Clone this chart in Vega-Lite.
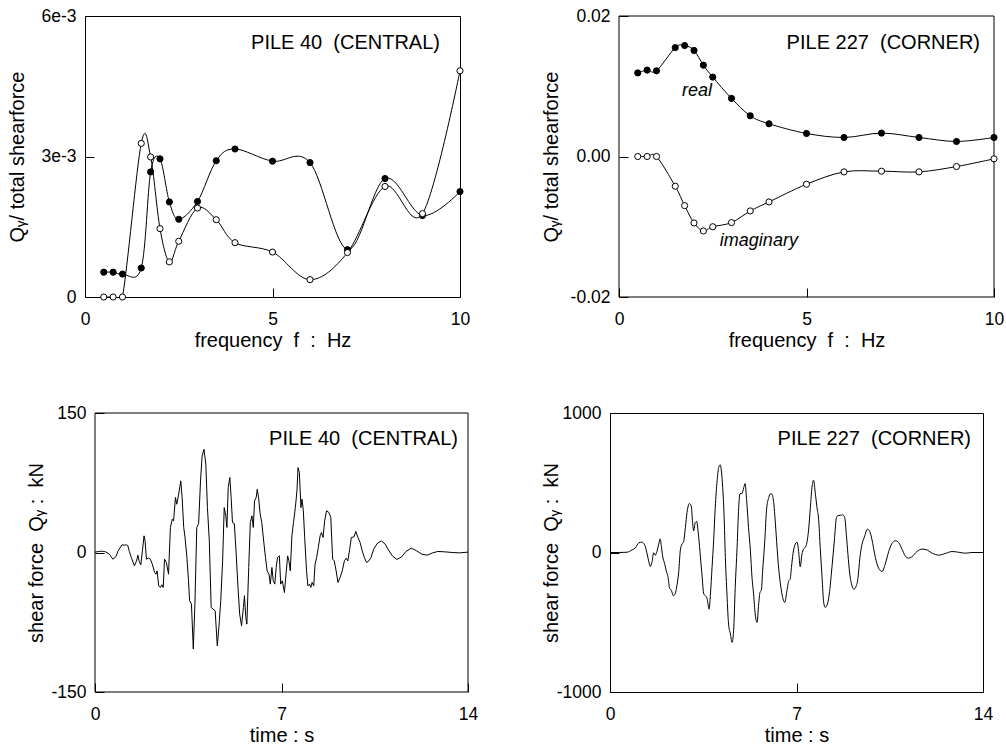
{
  "$schema": "https://vega.github.io/schema/vega-lite/v6.json",
  "background": "white",
  "padding": {"left": 6, "top": 6, "right": 5, "bottom": 5},
  "config": {
    "font": "Liberation Sans",
    "view": {"stroke": "black", "strokeWidth": 1},
    "axis": {"domain": false, "grid": false, "ticks": true, "tickSize": -9, "tickColor": "black", "tickWidth": 1,
      "labelColor": "black", "labelFontSize": 17.5, "labelFont": "Liberation Sans", "labelFlush": false, "labelOverlap": false,
      "titleFontSize": 20, "titleFontWeight": "normal", "titleColor": "black", "titleFont": "Liberation Sans"},
    "axisX": {"labelPadding": 36, "labelBaseline": "alphabetic", "titleY": 49, "titleBaseline": "alphabetic"},
    "axisY": {"labelPadding": 18, "titleBaseline": "alphabetic"}
  },
  "bounds": "flush",
  "columns": 2,
  "spacing": {"column": 142, "row": 116},
  "datasets": {
    "one": [{}],
    "tl": [
      {"f": 0.5, "v": 0.00053, "s": "filled"}, {"f": 0.75, "v": 0.00053, "s": "filled"}, {"f": 1.0, "v": 0.00049, "s": "filled"},
      {"f": 1.5, "v": 0.00062, "s": "filled"}, {"f": 1.75, "v": 0.00267, "s": "filled"}, {"f": 2.0, "v": 0.00295, "s": "filled"},
      {"f": 2.25, "v": 0.00203, "s": "filled"}, {"f": 2.5, "v": 0.00166, "s": "filled"}, {"f": 3.0, "v": 0.00204, "s": "filled"},
      {"f": 3.5, "v": 0.00291, "s": "filled"}, {"f": 4.0, "v": 0.00316, "s": "filled"}, {"f": 5.0, "v": 0.0029, "s": "filled"},
      {"f": 6.0, "v": 0.00287, "s": "filled"}, {"f": 7.0, "v": 0.00101, "s": "filled"}, {"f": 8.0, "v": 0.00253, "s": "filled"},
      {"f": 9.0, "v": 0.00174, "s": "filled"}, {"f": 10.0, "v": 0.00225, "s": "filled"},
      {"f": 0.5, "v": 0.0, "s": "open"}, {"f": 0.75, "v": 0.0, "s": "open"}, {"f": 1.0, "v": 0.0, "s": "open"},
      {"f": 1.5, "v": 0.00328, "s": "open"}, {"f": 1.75, "v": 0.00299, "s": "open"}, {"f": 2.0, "v": 0.00146, "s": "open"},
      {"f": 2.25, "v": 0.00075, "s": "open"}, {"f": 2.5, "v": 0.00119, "s": "open"}, {"f": 3.0, "v": 0.0019, "s": "open"},
      {"f": 3.5, "v": 0.00165, "s": "open"}, {"f": 4.0, "v": 0.00116, "s": "open"}, {"f": 5.0, "v": 0.00096, "s": "open"},
      {"f": 6.0, "v": 0.00037, "s": "open"}, {"f": 7.0, "v": 0.00095, "s": "open"}, {"f": 8.0, "v": 0.00236, "s": "open"},
      {"f": 9.0, "v": 0.00178, "s": "open"}, {"f": 10.0, "v": 0.00483, "s": "open"}
    ],
    "tr": [
      {"f": 0.5, "v": 0.0119, "s": "filled"}, {"f": 0.75, "v": 0.0123, "s": "filled"}, {"f": 1.0, "v": 0.0122, "s": "filled"},
      {"f": 1.5, "v": 0.0155, "s": "filled"}, {"f": 1.75, "v": 0.0158, "s": "filled"}, {"f": 2.0, "v": 0.0151, "s": "filled"},
      {"f": 2.25, "v": 0.013, "s": "filled"}, {"f": 2.5, "v": 0.0113, "s": "filled"}, {"f": 3.0, "v": 0.00827, "s": "filled"},
      {"f": 3.5, "v": 0.0058, "s": "filled"}, {"f": 4.0, "v": 0.00466, "s": "filled"}, {"f": 5.0, "v": 0.00328, "s": "filled"},
      {"f": 6.0, "v": 0.00271, "s": "filled"}, {"f": 7.0, "v": 0.00333, "s": "filled"}, {"f": 8.0, "v": 0.00271, "s": "filled"},
      {"f": 9.0, "v": 0.00214, "s": "filled"}, {"f": 10.0, "v": 0.00271, "s": "filled"},
      {"f": 0.5, "v": 0.0, "s": "open"}, {"f": 0.75, "v": 0.0, "s": "open"}, {"f": 1.0, "v": 0.0, "s": "open"},
      {"f": 1.5, "v": -0.00423, "s": "open"}, {"f": 1.75, "v": -0.00699, "s": "open"}, {"f": 2.0, "v": -0.00946, "s": "open"},
      {"f": 2.25, "v": -0.0106, "s": "open"}, {"f": 2.5, "v": -0.01, "s": "open"}, {"f": 3.0, "v": -0.00941, "s": "open"},
      {"f": 3.5, "v": -0.00775, "s": "open"}, {"f": 4.0, "v": -0.00647, "s": "open"}, {"f": 5.0, "v": -0.00395, "s": "open"},
      {"f": 6.0, "v": -0.00219, "s": "open"}, {"f": 7.0, "v": -0.00209, "s": "open"}, {"f": 8.0, "v": -0.00219, "s": "open"},
      {"f": 9.0, "v": -0.00143, "s": "open"}, {"f": 10.0, "v": -0.00033, "s": "open"}
    ],
    "bl": [
      {"t": 0, "q": 0.4}, {"t": 0.13, "q": 1.1}, {"t": 0.27, "q": 1.4}, {"t": 0.4, "q": 0.7}, {"t": 0.54, "q": -1.8},
      {"t": 0.67, "q": -7.2}, {"t": 0.78, "q": -4.7}, {"t": 0.87, "q": 1.8}, {"t": 1.01, "q": 8.2}, {"t": 1.1, "q": 7.9},
      {"t": 1.18, "q": 8.2}, {"t": 1.23, "q": 7.5}, {"t": 1.29, "q": 1.1}, {"t": 1.37, "q": -6.1}, {"t": 1.48, "q": -14.3},
      {"t": 1.56, "q": -9.0}, {"t": 1.61, "q": -2.9}, {"t": 1.66, "q": -9.7}, {"t": 1.72, "q": -13.2}, {"t": 1.78, "q": 1.8},
      {"t": 1.84, "q": 17.9}, {"t": 1.88, "q": 12.5}, {"t": 1.93, "q": -7.2}, {"t": 2.01, "q": -6.1}, {"t": 2.08, "q": -7.2},
      {"t": 2.15, "q": -12.5}, {"t": 2.24, "q": -21.5}, {"t": 2.29, "q": -23.3}, {"t": 2.33, "q": -19.7}, {"t": 2.39, "q": -35.8},
      {"t": 2.45, "q": -37.6}, {"t": 2.51, "q": -34.7}, {"t": 2.56, "q": -37.6}, {"t": 2.61, "q": -7.2}, {"t": 2.68, "q": -10.7},
      {"t": 2.76, "q": -23.3}, {"t": 2.83, "q": 26.9}, {"t": 2.9, "q": 35.8}, {"t": 2.95, "q": 34.0}, {"t": 3.02, "q": 59.1},
      {"t": 3.07, "q": 51.9}, {"t": 3.14, "q": 62.7}, {"t": 3.22, "q": 77.0}, {"t": 3.27, "q": 59.1}, {"t": 3.33, "q": 26.9},
      {"t": 3.38, "q": 16.1}, {"t": 3.45, "q": -5.4}, {"t": 3.51, "q": -30.4}, {"t": 3.55, "q": -51.9}, {"t": 3.62, "q": -55.5},
      {"t": 3.69, "q": -103.8}, {"t": 3.75, "q": -55.5}, {"t": 3.82, "q": 26.9}, {"t": 3.89, "q": 31.1}, {"t": 3.96, "q": 77.0},
      {"t": 4.02, "q": 103.8}, {"t": 4.09, "q": 111.0}, {"t": 4.16, "q": 94.9}, {"t": 4.22, "q": 48.3}, {"t": 4.29, "q": 12.5},
      {"t": 4.36, "q": -59.1}, {"t": 4.43, "q": -60.9}, {"t": 4.51, "q": -62.7}, {"t": 4.59, "q": -100.3}, {"t": 4.65, "q": -80.6},
      {"t": 4.72, "q": -51.9}, {"t": 4.79, "q": -9.0}, {"t": 4.85, "q": 48.3}, {"t": 4.91, "q": 39.4}, {"t": 4.95, "q": 26.9},
      {"t": 5.0, "q": 69.8}, {"t": 5.06, "q": 80.6}, {"t": 5.11, "q": 59.1}, {"t": 5.16, "q": 32.2}, {"t": 5.23, "q": 31.1},
      {"t": 5.3, "q": -1.8}, {"t": 5.36, "q": -34.0}, {"t": 5.43, "q": -66.2}, {"t": 5.5, "q": -78.8}, {"t": 5.57, "q": -59.1},
      {"t": 5.61, "q": -46.5}, {"t": 5.66, "q": -69.8}, {"t": 5.7, "q": -77.0}, {"t": 5.77, "q": -16.1}, {"t": 5.83, "q": 32.2},
      {"t": 5.89, "q": 39.4}, {"t": 5.94, "q": 26.9}, {"t": 5.99, "q": 55.5}, {"t": 6.05, "q": 59.1}, {"t": 6.09, "q": 68.0},
      {"t": 6.14, "q": 59.1}, {"t": 6.2, "q": 41.2}, {"t": 6.26, "q": 32.2}, {"t": 6.33, "q": 12.5}, {"t": 6.4, "q": -5.4},
      {"t": 6.46, "q": -19.7}, {"t": 6.53, "q": -23.3}, {"t": 6.58, "q": -34.0}, {"t": 6.64, "q": -16.1}, {"t": 6.69, "q": -30.4},
      {"t": 6.75, "q": -34.0}, {"t": 6.8, "q": -16.1}, {"t": 6.85, "q": -5.4}, {"t": 6.92, "q": -3.6}, {"t": 6.97, "q": -34.0},
      {"t": 7.03, "q": -30.4}, {"t": 7.11, "q": -43.0}, {"t": 7.17, "q": -23.3}, {"t": 7.23, "q": -3.6}, {"t": 7.28, "q": -9.0},
      {"t": 7.33, "q": -19.7}, {"t": 7.39, "q": 17.9}, {"t": 7.45, "q": 32.2}, {"t": 7.52, "q": 48.3}, {"t": 7.58, "q": 66.2},
      {"t": 7.62, "q": 91.3}, {"t": 7.67, "q": 85.9}, {"t": 7.73, "q": 48.3}, {"t": 7.77, "q": 57.3}, {"t": 7.82, "q": 44.8},
      {"t": 7.87, "q": 16.1}, {"t": 7.94, "q": -19.7}, {"t": 7.99, "q": -35.8}, {"t": 8.05, "q": -34.0}, {"t": 8.1, "q": -37.6},
      {"t": 8.15, "q": -32.2}, {"t": 8.21, "q": -35.8}, {"t": 8.26, "q": -12.5}, {"t": 8.32, "q": -5.4}, {"t": 8.38, "q": 5.4},
      {"t": 8.45, "q": 17.9}, {"t": 8.5, "q": 21.5}, {"t": 8.56, "q": 16.1}, {"t": 8.62, "q": 34.0}, {"t": 8.69, "q": 44.8},
      {"t": 8.78, "q": 43.0}, {"t": 8.85, "q": 37.6}, {"t": 8.92, "q": -7.2}, {"t": 8.98, "q": -9.0}, {"t": 9.05, "q": -19.7},
      {"t": 9.12, "q": -32.2}, {"t": 9.2, "q": -26.9}, {"t": 9.28, "q": -19.7}, {"t": 9.36, "q": -9.0}, {"t": 9.43, "q": -6.1},
      {"t": 9.49, "q": -9.0}, {"t": 9.56, "q": 3.6}, {"t": 9.62, "q": 16.1}, {"t": 9.72, "q": 16.8}, {"t": 9.79, "q": 22.6},
      {"t": 9.87, "q": 16.1}, {"t": 9.95, "q": 10.7}, {"t": 10.03, "q": 1.8}, {"t": 10.11, "q": -5.4}, {"t": 10.19, "q": -10.7},
      {"t": 10.28, "q": -9.0}, {"t": 10.36, "q": -5.4}, {"t": 10.46, "q": 3.6}, {"t": 10.59, "q": 9.7}, {"t": 10.75, "q": 12.5},
      {"t": 10.89, "q": 9.0}, {"t": 11.02, "q": 2.5}, {"t": 11.16, "q": -3.6}, {"t": 11.33, "q": -7.5}, {"t": 11.51, "q": -4.7},
      {"t": 11.67, "q": 1.1}, {"t": 11.87, "q": 4.7}, {"t": 12.07, "q": 1.8}, {"t": 12.27, "q": -1.8}, {"t": 12.47, "q": -2.9},
      {"t": 12.67, "q": -0.4}, {"t": 12.87, "q": 1.1}, {"t": 13.14, "q": 0.7}, {"t": 13.41, "q": 0.0}, {"t": 13.68, "q": -0.4},
      {"t": 14.0, "q": 0.4}
    ],
    "br": [
      {"t": 0, "q": 0}, {"t": 0.33, "q": 0}, {"t": 0.64, "q": 2}, {"t": 0.83, "q": 19}, {"t": 0.95, "q": 33},
      {"t": 1.08, "q": 69}, {"t": 1.2, "q": 74}, {"t": 1.3, "q": 55}, {"t": 1.39, "q": -7}, {"t": 1.45, "q": -60},
      {"t": 1.51, "q": -100}, {"t": 1.58, "q": -64}, {"t": 1.64, "q": -2}, {"t": 1.7, "q": -19}, {"t": 1.76, "q": 7},
      {"t": 1.83, "q": 60}, {"t": 1.88, "q": 98}, {"t": 1.93, "q": 41}, {"t": 1.98, "q": -31}, {"t": 2.05, "q": -79},
      {"t": 2.11, "q": -131}, {"t": 2.18, "q": -179}, {"t": 2.24, "q": -258}, {"t": 2.3, "q": -270}, {"t": 2.38, "q": -310},
      {"t": 2.45, "q": -294}, {"t": 2.51, "q": -239}, {"t": 2.58, "q": -136}, {"t": 2.64, "q": 17}, {"t": 2.7, "q": 60},
      {"t": 2.76, "q": 76}, {"t": 2.83, "q": 179}, {"t": 2.89, "q": 286}, {"t": 2.98, "q": 351}, {"t": 3.05, "q": 334},
      {"t": 3.1, "q": 215}, {"t": 3.14, "q": 155}, {"t": 3.2, "q": 215}, {"t": 3.25, "q": 222}, {"t": 3.33, "q": 107},
      {"t": 3.39, "q": -24}, {"t": 3.45, "q": -155}, {"t": 3.52, "q": -298}, {"t": 3.58, "q": -310}, {"t": 3.64, "q": -327},
      {"t": 3.72, "q": -406}, {"t": 3.77, "q": -298}, {"t": 3.83, "q": -107}, {"t": 3.89, "q": 84}, {"t": 3.95, "q": 322},
      {"t": 4.02, "q": 513}, {"t": 4.08, "q": 609}, {"t": 4.14, "q": 628}, {"t": 4.18, "q": 585}, {"t": 4.23, "q": 465},
      {"t": 4.28, "q": 275}, {"t": 4.33, "q": -36}, {"t": 4.39, "q": -298}, {"t": 4.45, "q": -513}, {"t": 4.52, "q": -585},
      {"t": 4.58, "q": -645}, {"t": 4.64, "q": -561}, {"t": 4.7, "q": -251}, {"t": 4.77, "q": 36}, {"t": 4.83, "q": 322},
      {"t": 4.88, "q": 422}, {"t": 4.95, "q": 422}, {"t": 5.02, "q": 465}, {"t": 5.07, "q": 494}, {"t": 5.13, "q": 370},
      {"t": 5.2, "q": 179}, {"t": 5.27, "q": 12}, {"t": 5.33, "q": -179}, {"t": 5.39, "q": -298}, {"t": 5.45, "q": -442},
      {"t": 5.52, "q": -501}, {"t": 5.58, "q": -370}, {"t": 5.63, "q": -286}, {"t": 5.68, "q": -270}, {"t": 5.73, "q": -131},
      {"t": 5.81, "q": 84}, {"t": 5.88, "q": 317}, {"t": 5.96, "q": 394}, {"t": 6.02, "q": 422}, {"t": 6.08, "q": 418},
      {"t": 6.14, "q": 365}, {"t": 6.21, "q": 203}, {"t": 6.27, "q": 36}, {"t": 6.33, "q": -112}, {"t": 6.39, "q": -215},
      {"t": 6.46, "q": -303}, {"t": 6.56, "q": -358}, {"t": 6.64, "q": -275}, {"t": 6.71, "q": -203}, {"t": 6.76, "q": -193},
      {"t": 6.81, "q": -107}, {"t": 6.87, "q": -7}, {"t": 6.93, "q": 48}, {"t": 7.02, "q": 74}, {"t": 7.08, "q": 7},
      {"t": 7.14, "q": -103}, {"t": 7.2, "q": -17}, {"t": 7.27, "q": 26}, {"t": 7.33, "q": 36}, {"t": 7.39, "q": 72},
      {"t": 7.45, "q": 155}, {"t": 7.52, "q": 322}, {"t": 7.58, "q": 465}, {"t": 7.64, "q": 518}, {"t": 7.71, "q": 418},
      {"t": 7.77, "q": 322}, {"t": 7.83, "q": 239}, {"t": 7.89, "q": 36}, {"t": 7.96, "q": -179}, {"t": 8.02, "q": -358},
      {"t": 8.08, "q": -394}, {"t": 8.16, "q": -370}, {"t": 8.23, "q": -298}, {"t": 8.33, "q": -107}, {"t": 8.42, "q": 84},
      {"t": 8.5, "q": 251}, {"t": 8.56, "q": 265}, {"t": 8.65, "q": 267}, {"t": 8.73, "q": 270}, {"t": 8.81, "q": 251},
      {"t": 8.87, "q": 131}, {"t": 8.93, "q": -12}, {"t": 9.0, "q": -155}, {"t": 9.06, "q": -222}, {"t": 9.15, "q": -263},
      {"t": 9.23, "q": -246}, {"t": 9.31, "q": -179}, {"t": 9.38, "q": -36}, {"t": 9.46, "q": 60}, {"t": 9.55, "q": 112},
      {"t": 9.66, "q": 167}, {"t": 9.75, "q": 150}, {"t": 9.83, "q": 95}, {"t": 9.96, "q": -36}, {"t": 10.08, "q": -112},
      {"t": 10.21, "q": -136}, {"t": 10.33, "q": -84}, {"t": 10.46, "q": 7}, {"t": 10.58, "q": 64}, {"t": 10.71, "q": 84},
      {"t": 10.83, "q": 72}, {"t": 10.96, "q": 24}, {"t": 11.08, "q": -24}, {"t": 11.2, "q": -41}, {"t": 11.33, "q": -31},
      {"t": 11.52, "q": 7}, {"t": 11.71, "q": 24}, {"t": 11.86, "q": 21}, {"t": 12.09, "q": -5}, {"t": 12.34, "q": -19},
      {"t": 12.59, "q": -7}, {"t": 12.84, "q": 7}, {"t": 13.08, "q": 2}, {"t": 13.34, "q": -5}, {"t": 13.59, "q": 0},
      {"t": 14.0, "q": 0}
    ]
  },
  "concat": [
    {
      "width": 375, "height": 281,
      "layer": [
        {"data": {"name": "tl"},
         "mark": {"type": "line", "interpolate": "cardinal", "tension": 0, "clip": true, "color": "black", "strokeWidth": 1},
         "encoding": {
           "x": {"field": "f", "type": "quantitative", "scale": {"domain": [0, 10], "nice": false, "zero": false},
                 "axis": {"values": [0, 5, 10], "format": "d", "title": "frequency\u00a0 f\u00a0 :\u00a0 Hz"}},
           "y": {"field": "v", "type": "quantitative", "scale": {"domain": [0, 0.006], "nice": false, "zero": false},
                 "axis": {"values": [0, 0.003, 0.006], "labelExpr": "datum.value < 0.001 ? '0' : datum.value < 0.0045 ? '3e-3' : '6e-3'", "title": "Q\u1d67/ total shearforce", "titleX": -62}},
           "detail": {"field": "s"}}},
        {"data": {"name": "tl"},
         "mark": {"type": "circle", "size": 38, "stroke": "black", "strokeWidth": 1, "opacity": 1},
         "encoding": {
           "x": {"field": "f", "type": "quantitative"},
           "y": {"field": "v", "type": "quantitative"},
           "fill": {"field": "s", "type": "nominal", "scale": {"domain": ["filled", "open"], "range": ["black", "white"]}, "legend": null}}},
        {"data": {"name": "one"},
         "mark": {"type": "text", "text": "PILE 40\u00a0 (CENTRAL)", "align": "right", "baseline": "alphabetic", "dx": -20, "dy": 33, "fontSize": 20, "color": "black"},
         "encoding": {"x": {"datum": 10}, "y": {"datum": 0.006}}}
      ]
    },
    {
      "width": 384, "height": 281,
      "view": {"stroke": null},
      "layer": [
        {"data": {"name": "one"},
         "mark": {"type": "rect", "fillOpacity": 0, "stroke": "black", "strokeWidth": 1},
         "encoding": {"x": {"datum": 0}, "x2": {"datum": 10}, "y": {"datum": -0.02}, "y2": {"datum": 0.02}}},
        {"data": {"name": "tr"},
         "mark": {"type": "line", "interpolate": "cardinal", "tension": 0, "color": "black", "strokeWidth": 1},
         "encoding": {
           "x": {"field": "f", "type": "quantitative", "scale": {"domain": [0, 10], "nice": false, "zero": false, "range": [9, 384]},
                 "axis": {"values": [0, 5, 10], "format": "d", "title": "frequency\u00a0 f\u00a0 :\u00a0 Hz"}},
           "y": {"field": "v", "type": "quantitative", "scale": {"domain": [-0.02, 0.02], "nice": false, "zero": false},
                 "axis": {"values": [-0.02, 0, 0.02], "offset": -9, "labelExpr": "datum.value > 0.001 ? '0.02' : datum.value < -0.001 ? '-0.02' : '0.00'", "title": "Q\u1d67/ total shearforce", "titleX": -62}},
           "detail": {"field": "s"}}},
        {"data": {"name": "tr"},
         "mark": {"type": "circle", "size": 38, "stroke": "black", "strokeWidth": 1, "opacity": 1},
         "encoding": {
           "x": {"field": "f", "type": "quantitative"},
           "y": {"field": "v", "type": "quantitative"},
           "fill": {"field": "s", "type": "nominal", "scale": {"domain": ["filled", "open"], "range": ["black", "white"]}, "legend": null}}},
        {"data": {"name": "one"},
         "mark": {"type": "text", "text": "PILE 227\u00a0 (CORNER)", "align": "right", "baseline": "alphabetic", "dx": -14, "dy": 33, "fontSize": 20, "color": "black"},
         "encoding": {"x": {"datum": 10}, "y": {"datum": 0.02}}},
        {"data": {"name": "one"},
         "mark": {"type": "text", "text": "real", "align": "center", "baseline": "middle", "fontSize": 18, "fontStyle": "italic", "color": "black"},
         "encoding": {"x": {"datum": 2.08}, "y": {"datum": 0.0093}}},
        {"data": {"name": "one"},
         "mark": {"type": "text", "text": "imaginary", "align": "center", "baseline": "middle", "fontSize": 18, "fontStyle": "italic", "color": "black"},
         "encoding": {"x": {"datum": 3.73}, "y": {"datum": -0.012}}}
      ]
    },
    {
      "width": 383, "height": 279,
      "view": {"stroke": null},
      "layer": [
        {"data": {"name": "one"},
         "mark": {"type": "rect", "fillOpacity": 0, "stroke": "black", "strokeWidth": 1},
         "encoding": {"x": {"datum": 0}, "x2": {"datum": 14}, "y": {"datum": -150}, "y2": {"datum": 150}}},
        {"data": {"name": "bl"},
         "mark": {"type": "line", "color": "black", "strokeWidth": 1},
         "encoding": {
           "x": {"field": "t", "type": "quantitative", "scale": {"domain": [0, 14], "nice": false, "zero": false, "range": [10, 383]},
                 "axis": {"values": [0, 7, 14], "format": "d", "title": "time : s"}},
           "y": {"field": "q", "type": "quantitative", "scale": {"domain": [-150, 150], "nice": false, "zero": false},
                 "axis": {"values": [-150, 0, 150], "offset": -10, "labelExpr": "datum.value > 1 ? '150' : datum.value < -1 ? '-150' : '0'", "title": "shear force\u00a0 Q\u1d67 :\u00a0 kN", "titleX": -53}}}},
        {"data": {"name": "one"},
         "mark": {"type": "text", "text": "PILE 40\u00a0 (CENTRAL)", "align": "right", "baseline": "alphabetic", "dx": -10, "dy": 32, "fontSize": 20, "color": "black"},
         "encoding": {"x": {"datum": 14}, "y": {"datum": 150}}}
      ]
    },
    {
      "width": 373, "height": 279,
      "layer": [
        {"data": {"name": "br"},
         "mark": {"type": "line", "interpolate": "monotone", "color": "black", "strokeWidth": 1},
         "encoding": {
           "x": {"field": "t", "type": "quantitative", "scale": {"domain": [0, 14], "nice": false, "zero": false},
                 "axis": {"values": [0, 7, 14], "format": "d", "title": "time : s"}},
           "y": {"field": "q", "type": "quantitative", "scale": {"domain": [-1000, 1000], "nice": false, "zero": false},
                 "axis": {"values": [-1000, 0, 1000], "labelExpr": "datum.value > 1 ? '1000' : datum.value < -1 ? '-1000' : '0'", "title": "shear force\u00a0 Q\u1d67 :\u00a0 kN", "titleX": -53}}}},
        {"data": {"name": "one"},
         "mark": {"type": "text", "text": "PILE 227\u00a0 (CORNER)", "align": "right", "baseline": "alphabetic", "dx": -12, "dy": 32, "fontSize": 20, "color": "black"},
         "encoding": {"x": {"datum": 14}, "y": {"datum": 1000}}}
      ]
    }
  ]
}
